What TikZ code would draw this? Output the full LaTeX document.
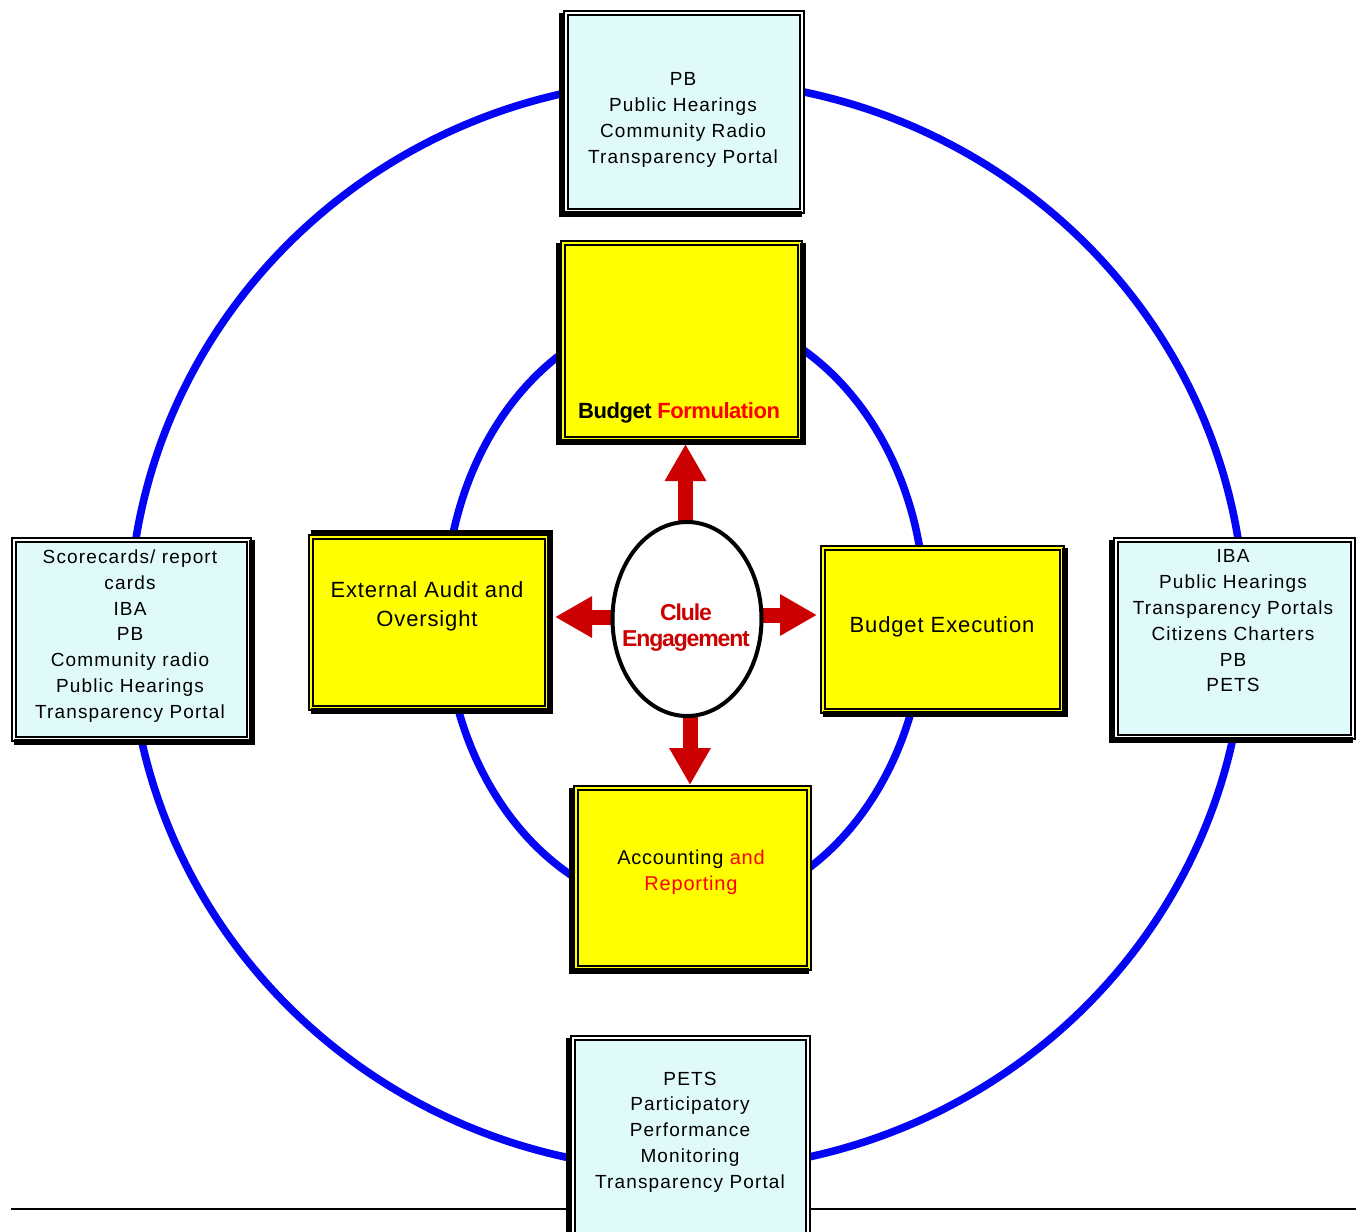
\documentclass[tikz,border=0pt]{standalone}
\usepackage{fontspec}
\setmainfont{Liberation Sans}
\newfontfamily\cyanfont[LetterSpace=6]{Liberation Sans}
\newfontfamily\yelfont[LetterSpace=4]{Liberation Sans}
\newfontfamily\bffont[LetterSpace=-2]{Liberation Sans}
\newfontfamily\clfont[LetterSpace=-5]{Liberation Sans}
\usetikzlibrary{arrows.meta,calc,shapes.geometric}
\definecolor{ringblue}{RGB}{5,5,245}
\definecolor{arrowred}{RGB}{204,0,0}
\definecolor{brightred}{RGB}{255,0,0}
\definecolor{boxcyan}{RGB}{224,250,250}
\definecolor{boxyellow}{RGB}{255,255,0}
\tikzset{
  ring/.style={draw=ringblue, line width=3.8pt},
  framebox/.style={rectangle, draw=black, line width=1pt, double distance=1pt, outer sep=0pt, inner sep=0pt},
  cyanbox/.style={framebox, fill=boxcyan, double=white},
  yelbox/.style={framebox, fill=boxyellow, double=boxyellow},
  band/.style={draw=black, line width=3pt, line join=miter},
  cyantext/.style={align=center, font=\cyanfont\fontsize{9.5}{12.9}\selectfont, inner sep=0pt},
  yeltext/.style={align=center, font=\yelfont\fontsize{11}{14.5}\selectfont, inner sep=0pt},
  redarrow/.style={draw=arrowred, line width=7.5pt, -{Triangle[width=19.5pt,length=18.5pt]}},
}
\begin{document}
\begin{tikzpicture}[x=0.5pt,y=0.5pt]
\useasboundingbox (0,0) rectangle (1356,-1232);
\clip (0,0) rectangle (1356,-1232);
\fill[white] (0,0) rectangle (1356,-1232);

% centres of the two rings and of the hub
\coordinate (Co) at (687,-625);
\coordinate (Ci) at (685,-611);
\coordinate (Ec) at (687,-619);

% rings (drawn first, boxes cover their ends)
\draw[ring] (Co) ++(90:558 and 545) arc[start angle=90,end angle=180,x radius=558,y radius=545];
\draw[ring] (Co) ++(180:558 and 545) arc[start angle=180,end angle=270,x radius=558,y radius=545];
\draw[ring] (Co) ++(270:558 and 545) arc[start angle=270,end angle=360,x radius=558,y radius=545];
\draw[ring] (Co) ++(0:558 and 545) arc[start angle=0,end angle=90,x radius=558,y radius=545];
\draw[ring] (Ci) ++(90:240 and 300) arc[start angle=90,end angle=180,x radius=240,y radius=300];
\draw[ring] (Ci) ++(180:240 and 300) arc[start angle=180,end angle=270,x radius=240,y radius=300];
\draw[ring] (Ci) ++(270:240 and 300) arc[start angle=270,end angle=360,x radius=240,y radius=300];
\draw[ring] (Ci) ++(0:240 and 300) arc[start angle=0,end angle=90,x radius=240,y radius=300];

% horizontal rule
\coordinate (hl1) at (11,-1209);
\coordinate (hl2) at (1356,-1209);
\draw[line width=1pt] (hl1) -- (hl2);

% outer (cyan) boxes
\node[cyanbox, minimum width=118pt, minimum height=99pt] (T) at (683.5,-111.5) {};
\node[cyanbox, minimum width=117.5pt, minimum height=99.5pt] (L) at (131,-639) {};
\node[cyanbox, minimum width=118.5pt, minimum height=98.5pt] (R) at (1234,-638) {};
\node[cyanbox, minimum width=117.5pt, minimum height=100pt] (B) at (690,-1137.5) {};

% inner (yellow) boxes
\node[yelbox, minimum width=118.5pt, minimum height=98pt] (BF) at (681,-340.5) {};
\node[yelbox, minimum width=118pt, minimum height=85.5pt] (EA) at (428.5,-622) {};
\node[yelbox, minimum width=119.5pt, minimum height=81.5pt] (BE) at (942,-629) {};
\node[yelbox, minimum width=116.5pt, minimum height=90pt] (AR) at (692,-877.5) {};

% heavy frame sides
\draw[band] ([xshift=-1.8pt]T.north west) -- ([xshift=-1.8pt,yshift=-1.8pt]T.south west) -- ([yshift=-1.8pt]T.south east);
\draw[band] ([xshift=1.8pt]L.north east) -- ([xshift=1.8pt,yshift=-1.8pt]L.south east) -- ([yshift=-1.8pt]L.south west);
\draw[band] ([xshift=-1.8pt]R.north west) -- ([xshift=-1.8pt,yshift=-1.8pt]R.south west) -- ([yshift=-1.8pt]R.south east);
\draw[band] ([xshift=-1.8pt]B.north west) -- ([xshift=-1.8pt]B.south west);
\draw[band] ([xshift=-1.8pt]BF.north west) -- ([xshift=-1.8pt,yshift=-1.8pt]BF.south west) -- ([xshift=1.8pt,yshift=-1.8pt]BF.south east) -- ([xshift=1.8pt]BF.north east);
\draw[band] ([yshift=1.8pt]EA.north west) -- ([xshift=1.8pt,yshift=1.8pt]EA.north east) -- ([xshift=1.8pt,yshift=-1.8pt]EA.south east) -- ([yshift=-1.8pt]EA.south west);
\draw[band] ([xshift=1.8pt]BE.north east) -- ([xshift=1.8pt,yshift=-1.8pt]BE.south east) -- ([yshift=-1.8pt]BE.south west);
\draw[band] ([xshift=-1.8pt]AR.north west) -- ([xshift=-1.8pt,yshift=-1.8pt]AR.south west) -- ([yshift=-1.8pt]AR.south east);

% box texts
\node[cyantext] (Tt) at (683,-120) {PB\\Public Hearings\\Community Radio\\Transparency Portal};
\node[cyantext] (Lt) at (130,-636) {Scorecards/ report\\cards\\IBA\\PB\\Community radio\\Public Hearings\\Transparency Portal};
\node[cyantext] (Rt) at (1233,-621) {IBA\\Public Hearings\\Transparency Portals\\Citizens Charters\\PB\\PETS};
\node[cyantext] (Bt) at (690,-1132) {PETS\\Participatory\\Performance\\Monitoring\\Transparency Portal};
\node[yeltext] (EAt) at (427,-606) {External Audit and\\Oversight};
\node[yeltext] (BEt) at (942,-627) {Budget Execution};
\node[align=center, inner sep=0pt, font=\yelfont\fontsize{10}{13}\selectfont] (ARt) at (691,-872) {Accounting \textcolor{brightred}{and}\\\textcolor{brightred}{Reporting}};
\node[inner sep=0pt, font=\bffont\bfseries\fontsize{11}{13}\selectfont] (BFt) at (679,-413) {Budget \textcolor{brightred}{Formulation}};

% red arrows from the hub
\draw[redarrow, shorten >=2.75pt] ([xshift=-0.75pt]Ec) -- ([xshift=-0.75pt]Ec |- BF.south);
\draw[redarrow, shorten >=1.25pt] ([xshift=1.5pt]Ec) -- ([xshift=1.5pt]Ec |- AR.north);
\draw[redarrow, shorten >=4.25pt] ([yshift=1pt]Ec) -- ([yshift=1pt]Ec -| EA.east);
\draw[redarrow, shorten >=2.75pt] ([yshift=2pt]Ec) -- ([yshift=2pt]Ec -| BE.west);

% hub
\node[ellipse, draw=black, line width=2pt, fill=white, minimum width=74.5pt, minimum height=97pt, inner sep=0pt] (E) at (Ec) {};
\node[align=center, inner sep=0pt, text=arrowred, font=\clfont\bfseries\fontsize{11.5}{13}\selectfont] (Et) at (686,-628) {Clule\\Engagement};
\end{tikzpicture}
\end{document}
